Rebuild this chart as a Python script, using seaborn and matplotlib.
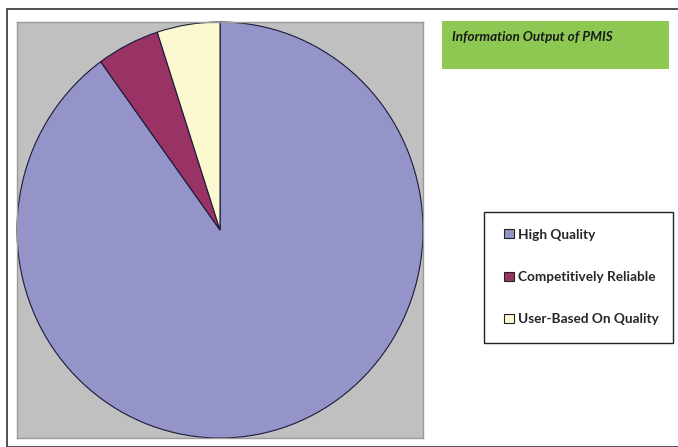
import matplotlib
matplotlib.use("Agg")
import matplotlib.pyplot as plt
from matplotlib.patches import Rectangle
import seaborn as sns

categories = ["High Quality", "Competitively Reliable", "User-Based On Quality"]
shares = [90, 5, 5]
colors = ["#9494C8", "#993366", "#FCF8D0"]
title_text = "Information Output of PMIS"

sns.set_theme(style="white")
plt.rcParams["font.family"] = ["Lato", "DejaVu Sans"]

W, H = 678, 447
fig = plt.figure(figsize=(W / 100, H / 100), dpi=100)

def fx(x):
    return x / W

def fy(y):
    return 1 - y / H

# outer frame
fig.patches.append(Rectangle((fx(7), fy(447)), fx(700) - fx(7), fy(9.3) - fy(447),
                             transform=fig.transFigure, fill=False,
                             edgecolor="#333333", linewidth=1.2, zorder=0))

ax = fig.add_axes([fx(17), fy(438), fx(423) - fx(17), fy(22) - fy(438)])
ax.set_facecolor("#C0C0C0")
wedges, _ = ax.pie(shares, colors=colors, startangle=90, counterclock=False,
                   radius=1.0, wedgeprops=dict(edgecolor="#1a1a3a", linewidth=0.8))
ax.set_aspect("auto")
ax.set_xlim(-1.0, 1.0)
ax.set_ylim(-1.0, 1.0)
ax.set_frame_on(True)
for s in ax.spines.values():
    s.set_visible(True)
    s.set_color("#9a9a9a")
    s.set_linewidth(1.0)
ax.set_xticks([])
ax.set_yticks([])

# green title box
fig.patches.append(Rectangle((fx(442), fy(69)), fx(669) - fx(442), fy(21.5) - fy(69),
                             transform=fig.transFigure, facecolor="#8DC952",
                             edgecolor="none", zorder=1))
fig.text(fx(452), fy(37), title_text, fontsize=9.75, fontweight="bold",
         fontstyle="italic", color="#1a1a1a", va="center", ha="left", zorder=2)

# legend box
fig.patches.append(Rectangle((fx(484.5), fy(343)), fx(673) - fx(484.5), fy(212) - fy(343),
                             transform=fig.transFigure, facecolor="white",
                             edgecolor="#222222", linewidth=1.0, zorder=1))

leg = fig.legend(wedges, categories, loc="center left",
                 bbox_to_anchor=(fx(504), fy(277)), bbox_transform=fig.transFigure,
                 frameon=False,
                 prop=dict(family=["Lato", "DejaVu Sans"], weight="bold", size=9.85),
                 handlelength=0.75, handleheight=0.6, handletextpad=0.25,
                 labelspacing=2.22, borderpad=0, borderaxespad=0)
leg.set_zorder(3)
for h in leg.legend_handles:
    h.set_edgecolor("#222222")
    h.set_linewidth(0.8)

fig.savefig("out.png", dpi=100)
